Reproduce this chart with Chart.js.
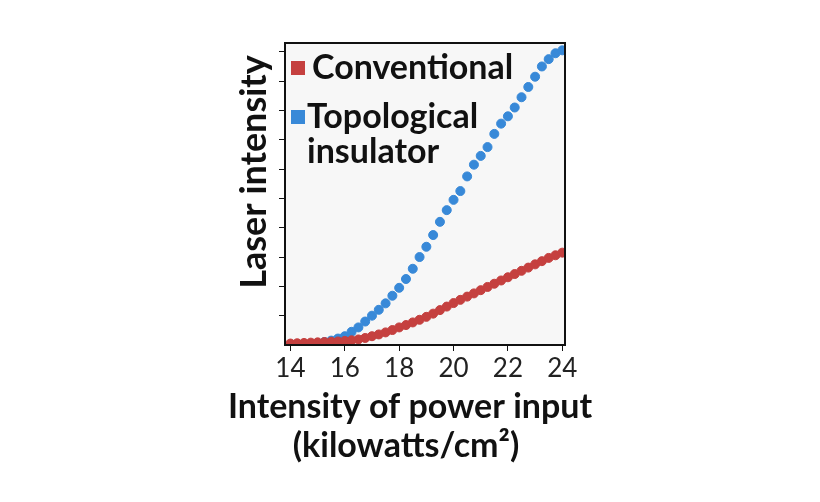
<!DOCTYPE html>
<html>
<head>
<meta charset="utf-8">
<script src="https://cdn.jsdelivr.net/npm/chart.js@4"></script>
<style>
  body { margin: 0; background: #fff; }
  #wrap { width: 820px; height: 502px; }
</style>
</head>
<body>
<div id="wrap"><canvas id="laserChart"></canvas></div>
<script>
const xValues = [14,14.25,14.5,14.75,15,15.25,15.5,15.75,16,16.25,16.5,16.75,17,17.25,17.5,17.75,18,18.25,18.5,18.75,19,19.25,19.5,19.75,20,20.25,20.5,20.75,21,21.25,21.5,21.75,22,22.25,22.5,22.75,23,23.25,23.5,23.75,24];
const conventional = [0.05,0.06,0.07,0.08,0.09,0.1,0.11,0.12,0.14,0.16,0.19,0.24,0.3,0.36,0.43,0.51,0.6,0.68,0.77,0.86,0.96,1.07,1.19,1.31,1.43,1.54,1.65,1.76,1.87,1.98,2.09,2.2,2.31,2.42,2.53,2.64,2.75,2.86,2.97,3.06,3.15];
const topological = [0,0,0.02,0.04,0.06,0.1,0.15,0.22,0.3,0.45,0.6,0.8,1.0,1.2,1.42,1.68,1.95,2.25,2.6,3.0,3.35,3.75,4.2,4.6,4.95,5.25,5.75,6.15,6.45,6.75,7.2,7.55,7.8,8.1,8.45,8.8,9.15,9.5,9.75,9.95,10.05];
const xTicks = [14,16,18,20,22,24];

const RED = '#c5403f';
const BLUE = '#3889d8';

// dibuja fondo, marco, titulos y leyenda
const decor = {
  id: 'decor',
  beforeDatasetsDraw(chart) {
    const { ctx, chartArea: a } = chart;
    ctx.save();
    ctx.fillStyle = '#f7f7f7';
    ctx.fillRect(a.left, a.top, a.right - a.left, a.bottom - a.top);
    ctx.restore();
  },
  afterDraw(chart) {
    const { ctx, chartArea: a } = chart;
    ctx.save();
    ctx.strokeStyle = '#111';
    ctx.lineWidth = 2;
    ctx.strokeRect(a.left, a.top, a.right - a.left, a.bottom - a.top);

    ctx.fillStyle = '#111';
    ctx.font = 'bold 34px Lato';
    ctx.textAlign = 'center';
    ctx.textBaseline = 'middle';
    ctx.fillText('Intensity of power input', 410, 407);
    ctx.fillText('(kilowatts/cm²)', 406, 446);

    ctx.font = 'bold 36px Lato';
    ctx.translate(254, 172);
    ctx.rotate(-Math.PI / 2);
    ctx.fillText('Laser intensity', 0, 0);
    ctx.restore();

    ctx.save();
    ctx.font = 'bold 34px Lato';
    ctx.textBaseline = 'middle';
    ctx.fillStyle = RED;
    ctx.fillRect(291, 61, 14, 14);
    ctx.fillStyle = BLUE;
    ctx.fillRect(291, 110, 14, 14);
    ctx.fillStyle = '#111';
    ctx.fillText('Conventional', 312, 68);
    ctx.fillText('Topological', 307, 117);
    ctx.fillText('insulator', 307, 152);
    ctx.restore();
  }
};

document.addEventListener('DOMContentLoaded', () => {
  const ctx = document.getElementById('laserChart').getContext('2d');
  new Chart(ctx, {
    type: 'scatter',
    data: {
      datasets: [
        {
          label: 'Conventional',
          data: xValues.map((x, i) => ({ x: x, y: conventional[i] })),
          backgroundColor: RED,
          borderColor: RED,
          pointRadius: 4.5
        },
        {
          label: 'Topological insulator',
          data: xValues.map((x, i) => ({ x: x, y: topological[i] })),
          backgroundColor: BLUE,
          borderColor: BLUE,
          pointRadius: 4.5
        }
      ]
    },
    options: {
      responsive: true,
      maintainAspectRatio: false,
      animation: false,
      layout: { padding: { left: 279, right: 255, top: 43, bottom: 0 } },
      plugins: { legend: { display: false }, tooltip: { enabled: false } },
      scales: {
        x: {
          type: 'linear',
          min: 13.8,
          max: 24.1,
          afterBuildTicks: s => { s.ticks = xTicks.map(v => ({ value: v })); },
          afterFit: s => { s.height = 157; },
          grid: { drawOnChartArea: false, tickLength: 6, color: '#111' },
          border: { display: false },
          ticks: { color: '#222', font: { family: 'Lato', size: 26 }, padding: 2 }
        },
        y: {
          min: 0,
          max: 10.3,
          afterBuildTicks: s => { s.ticks = [1,2,3,4,5,6,7,8,9,10].map(v => ({ value: v })); },
          afterFit: s => { s.width = 6; },
          grid: { drawOnChartArea: false, tickLength: 6, color: '#111' },
          border: { display: false },
          ticks: { display: false }
        }
      }
    },
    plugins: [decor]
  });
});
</script>
</body>
</html>
